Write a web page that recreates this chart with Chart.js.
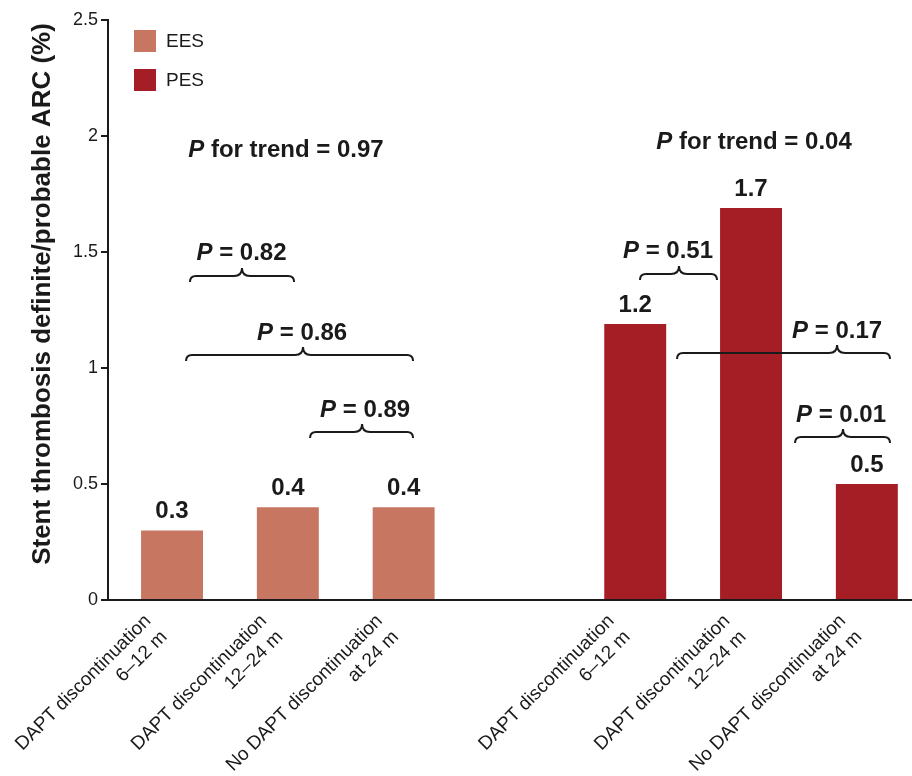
<!DOCTYPE html>
<html>
<head>
<meta charset="utf-8">
<script src="https://cdn.jsdelivr.net/npm/chart.js@4.4.1/dist/chart.umd.min.js"></script>
<style>
  html, body { margin: 0; padding: 0; background: #fff; }
</style>
</head>
<body>
<canvas id="chart" width="912" height="776"></canvas>
<script>
// category slots on the x axis (slot 3 is the empty gap between groups)
const slots = [0, 1, 2, 4, 5, 6];
const categories = [
    ['DAPT discontinuation', '6–12 m'],
    ['DAPT discontinuation', '12–24 m'],
    ['No DAPT discontinuation', 'at 24 m'],
    ['DAPT discontinuation', '6–12 m'],
    ['DAPT discontinuation', '12–24 m'],
    ['No DAPT discontinuation', 'at 24 m']
];
const eesSlots = [0, 1, 2];
const pesSlots = [4, 5, 6];
const eesValues = [0.3, 0.4, 0.4];
const pesValues = [1.19, 1.69, 0.5];
const yTicks = [0, 0.5, 1, 1.5, 2, 2.5];
const yTitle = 'Stent thrombosis definite/probable ARC (%)';

const EES_COLOR = '#c77662';
const PES_COLOR = '#a51e25';
const TEXT = '#1a1a1a';
const FONT = '"Liberation Sans", Arial, Helvetica, sans-serif';

// comparison brackets: x in slot units, y in axis units
const brackets = [
    { p: '0.82', x1: 0.155, x2: 1.054, cusp: 0.604, y: 1.397, lx: 0.60, ly: 1.466 },
    { p: '0.86', x1: 0.121, x2: 2.081, cusp: 1.131, y: 1.056, lx: 1.123, ly: 1.121 },
    { p: '0.89', x1: 1.192, x2: 2.081, cusp: 1.641, y: 0.724, lx: 1.667, ly: 0.789 },
    { p: '0.51', x1: 4.041, x2: 4.706, cusp: 4.378, y: 1.405, lx: 4.283, ly: 1.474 },
    { p: '0.17', x1: 4.361, x2: 6.2, cusp: 5.743, y: 1.065, lx: 5.743, ly: 1.129 },
    { p: '0.01', x1: 5.38, x2: 6.2, cusp: 5.794, y: 0.703, lx: 5.777, ly: 0.767 }
];
const trends = [
    { text: ' for trend = 0.97', x: 0.984, y: 1.909 },
    { text: ' for trend = 0.04', x: 5.026, y: 1.944 }
];

function toPoints(xs, ys) {
    return xs.map((x, i) => ({ x: x, y: ys[i] }));
}

// Draws "P" in bold italic followed by the rest in bold, centred on cx
function drawPText(ctx, rest, cx, baseline) {
    const italic = 'italic bold 24px ' + FONT;
    const bold = 'bold 24px ' + FONT;
    ctx.font = italic;
    const wP = ctx.measureText('P').width;
    ctx.font = bold;
    const wR = ctx.measureText(rest).width;
    let x = cx - (wP + wR) / 2;
    ctx.textAlign = 'left';
    ctx.textBaseline = 'alphabetic';
    ctx.fillStyle = TEXT;
    ctx.font = italic;
    ctx.fillText('P', x, baseline);
    ctx.font = bold;
    ctx.fillText(rest, x + wP, baseline);
}

function drawBrace(ctx, x1, x2, xc, y) {
    const h = 6, c = 8;
    ctx.beginPath();
    ctx.moveTo(x1, y + h);
    ctx.quadraticCurveTo(x1, y, x1 + h, y);
    ctx.lineTo(xc - c, y);
    ctx.quadraticCurveTo(xc, y, xc, y - c);
    ctx.quadraticCurveTo(xc, y, xc + c, y);
    ctx.lineTo(x2 - h, y);
    ctx.quadraticCurveTo(x2, y, x2, y + h);
    ctx.lineWidth = 2;
    ctx.strokeStyle = TEXT;
    ctx.stroke();
}

const annotations = {
    id: 'annotations',
    afterDatasetsDraw(chart) {
        const ctx = chart.ctx;
        const xs = chart.scales.x;
        const ys = chart.scales.y;
        ctx.save();

        // value labels above bars
        chart.data.datasets.forEach((ds, di) => {
            const meta = chart.getDatasetMeta(di);
            meta.data.forEach((bar, i) => {
                ctx.font = 'bold 24px ' + FONT;
                ctx.fillStyle = TEXT;
                ctx.textAlign = 'center';
                ctx.textBaseline = 'alphabetic';
                ctx.fillText(ds.data[i].y.toFixed(1), bar.x, bar.y - 12);
            });
        });

        // brackets with P values
        brackets.forEach(b => {
            drawBrace(ctx, xs.getPixelForValue(b.x1), xs.getPixelForValue(b.x2),
                xs.getPixelForValue(b.cusp), ys.getPixelForValue(b.y));
            drawPText(ctx, ' = ' + b.p, xs.getPixelForValue(b.lx), ys.getPixelForValue(b.ly));
        });

        trends.forEach(t => {
            drawPText(ctx, t.text, xs.getPixelForValue(t.x), ys.getPixelForValue(t.y));
        });

        // legend inside the plot
        const items = [[chart.data.datasets[0].label, EES_COLOR], [chart.data.datasets[1].label, PES_COLOR]];
        items.forEach((it, i) => {
            const top = 30 + i * 39;
            ctx.fillStyle = it[1];
            ctx.fillRect(134, top, 22, 22);
            ctx.fillStyle = TEXT;
            ctx.font = '19px ' + FONT;
            ctx.textAlign = 'left';
            ctx.textBaseline = 'middle';
            ctx.fillText(it[0], 166, top + 12);
        });

        // y axis title (sits a little above the axis centre in the original)
        ctx.translate(43, 294);
        ctx.rotate(-Math.PI / 2);
        ctx.font = 'bold 26px ' + FONT;
        ctx.fillStyle = TEXT;
        ctx.textAlign = 'center';
        ctx.textBaseline = 'middle';
        ctx.fillText(yTitle, 0, 0);
        ctx.restore();
    }
};

new Chart(document.getElementById('chart'), {
    type: 'bar',
    data: {
        datasets: [
            { label: 'EES', data: toPoints(eesSlots, eesValues), backgroundColor: EES_COLOR },
            { label: 'PES', data: toPoints(pesSlots, pesValues), backgroundColor: PES_COLOR }
        ]
    },
    options: {
        responsive: false,
        animation: false,
        grouped: false,
        barPercentage: 0.535,
        categoryPercentage: 1,
        layout: { padding: { top: 20, right: 0, left: 0, bottom: 0 } },
        plugins: {
            legend: { display: false },
            tooltip: { enabled: false }
        },
        scales: {
            x: {
                type: 'linear',
                offset: false,
                min: -0.553,
                max: 6.39,
                grid: { display: false },
                border: { display: true, color: TEXT, width: 2 },
                afterBuildTicks: (axis) => { axis.ticks = slots.map(v => ({ value: v })); },
                afterFit: (scale) => { scale.height = 176; },
                ticks: {
                    autoSkip: false,
                    minRotation: 45,
                    maxRotation: 45,
                    padding: 2,
                    labelOffset: -24,
                    color: TEXT,
                    font: { family: FONT, size: 19 },
                    callback: (value) => {
                        const i = slots.indexOf(value);
                        return i >= 0 ? categories[i] : '';
                    }
                }
            },
            y: {
                min: 0,
                max: 2.5,
                afterBuildTicks: (axis) => { axis.ticks = yTicks.map(v => ({ value: v })); },
                afterFit: (scale) => { scale.width = 108; },
                grid: { drawOnChartArea: false, drawTicks: true, tickLength: 7, color: TEXT, lineWidth: 2 },
                border: { display: true, color: TEXT, width: 2 },
                ticks: {
                    padding: 3,
                    color: TEXT,
                    font: { family: FONT, size: 18 },
                    callback: (value) => String(value)
                }
            }
        }
    },
    plugins: [annotations]
});
</script>
</body>
</html>
